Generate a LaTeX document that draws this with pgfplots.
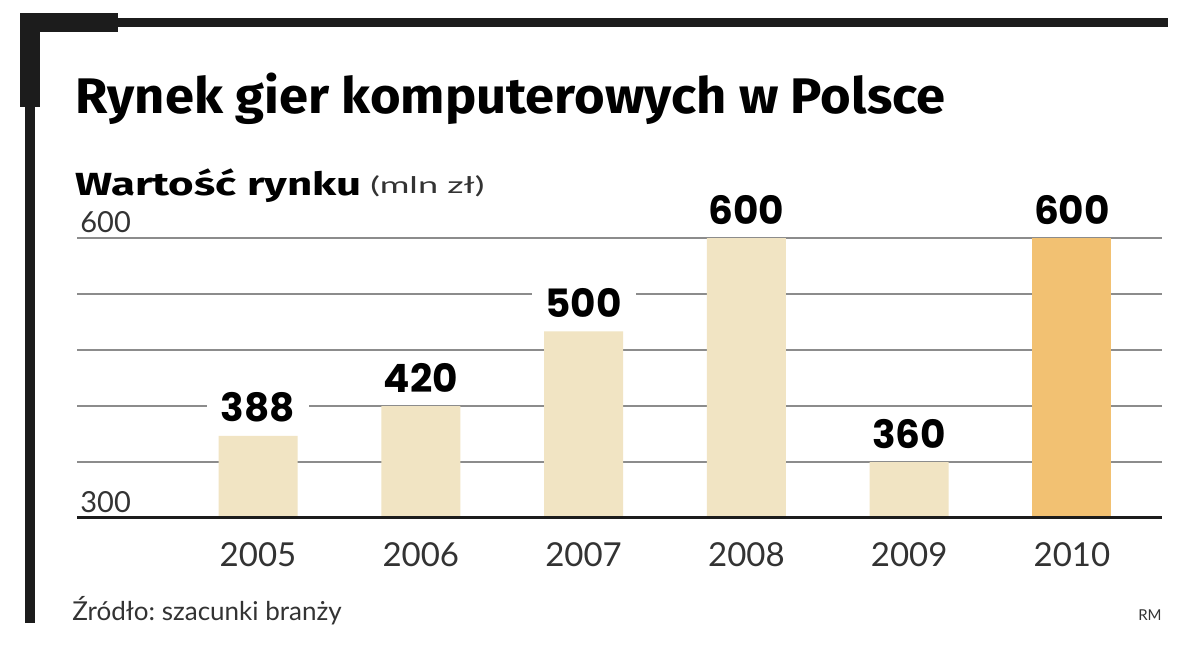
\documentclass[border=0pt]{standalone}
\usepackage{pgfplots}
\pgfplotsset{compat=1.18}
\usepackage{fontspec}
\usepackage{graphicx}
\setmainfont{Lato}
\newfontfamily\headfont{Fira Sans}
\newfontfamily\numfont{Poppins}
\frenchspacing

\definecolor{framebk}{HTML}{1C1C1C}
\definecolor{barbeige}{HTML}{F1E4C3}
\definecolor{barorange}{HTML}{F2C172}
\definecolor{gridgray}{HTML}{8C8C8C}
\definecolor{txtgray}{HTML}{333333}

\begin{document}
\begin{tikzpicture}[x=0.5pt,y=0.5pt]
% canvas 1200 x 650 px
\fill[white] (0,0) rectangle (1200,650);

% frame
\fill[framebk] (20,623) rectangle (1168,632);
\fill[framebk] (20,618) rectangle (118,637);
\fill[framebk] (25,27) rectangle (35,637);
\fill[framebk] (20,543) rectangle (40,637);

% titles
\node[anchor=base west, inner sep=0] at (75,537)
  {\resizebox{435pt}{\height}{\headfont\bfseries\fontsize{25}{28}\selectfont Rynek gier komputerowych w Polsce}};
\node[anchor=base west, inner sep=0] at (75,455)
  {\resizebox{143pt}{\height}{\headfont\bfseries\fontsize{16}{18}\selectfont Wartość rynku}};
\node[anchor=base west, inner sep=0, text=txtgray] at (370,457)
  {\resizebox{57pt}{\height}{\fontsize{11.5}{13}\selectfont (mln zł)}};

\begin{axis}[
    at={(38.5pt,66pt)}, anchor=south west,
    scale only axis,
    width=542.5pt, height=177.33pt,
    xmin=-1.112, xmax=5.553,
    ymin=300, ymax=680,
    axis line style={draw=none},
    major tick length=0pt,
    ytick={300,360,420,480,540,600},
    yticklabels={300,,,,,600},
    yticklabel style={anchor=south west, inner sep=0pt, xshift=1.5pt, yshift=2.5pt,
        font=\fontsize{14.5}{16}\selectfont, text=txtgray},
    xtick={0,1,2,3,4,5},
    xticklabels={2005,2006,2007,2008,2009,2010},
    xticklabel style={anchor=north, inner sep=0pt, yshift=-12pt,
        font=\fontsize{16.5}{18}\selectfont, text=txtgray},
    /pgf/number format/assume math mode=true,
    ymajorgrids,
    grid style={gridgray, line width=0.75pt},
    ybar, bar width=39.5pt,
    nodes near coords,
    every node near coord/.append style={
        font=\numfont\bfseries\fontsize{19.5}{22}\selectfont,
        text=black, fill=white, inner xsep=7pt, inner ysep=1pt,
        anchor=south, yshift=5.5pt},
]
\addplot[draw=none, fill=barbeige, bar shift=0pt]
    coordinates {(0,388) (1,420) (2,500) (3,600) (4,360)};
\addplot[draw=none, fill=barorange, bar shift=0pt]
    coordinates {(5,600)};
\draw[framebk, line width=1.6pt] (axis cs:-1.112,300) -- (axis cs:5.553,300);
\end{axis}

% source
\node[anchor=base west, inner sep=0, text=txtgray] at (72,30)
  {\fontsize{13}{15}\selectfont Źródło: szacunki branży};
\node[anchor=base east, inner sep=0, text=txtgray] at (1162,30)
  {\fontsize{7.5}{9}\selectfont RM};
\end{tikzpicture}
\end{document}
